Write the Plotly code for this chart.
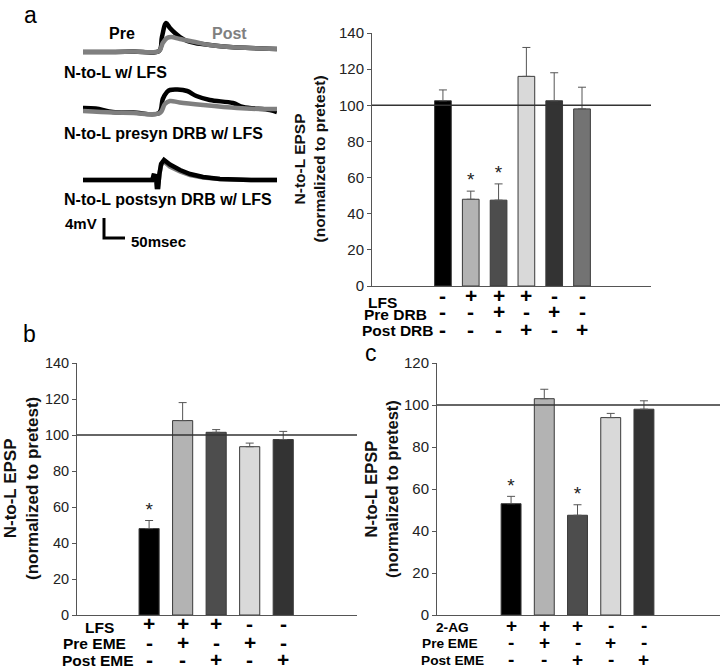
import plotly.graph_objects as go

W, H = 720, 670
FONT = "Liberation Sans, Arial, sans-serif"


def X(px):
    return px / W


def Y(py):
    return 1 - py / H


# ---------------- data ----------------
# Panel a (bars)
A_VALUES = [102.5, 48, 47.5, 116, 102.5, 98]
A_ERRORS = [6, 4.5, 9, 16, 15.5, 12]
A_COLORS = ["#000000", "#b3b3b3", "#4d4d4d", "#d9d9d9", "#333333", "#737373"]
A_SIG = [False, True, True, False, False, False]
A_ROWS = ["LFS", "Pre DRB", "Post DRB"]
A_SIGNS = [["-", "+", "+", "+", "-", "-"],
           ["-", "-", "+", "-", "+", "-"],
           ["-", "-", "-", "+", "-", "+"]]
A_TICKS = [0, 20, 40, 60, 80, 100, 120, 140]

# Panel b
B_VALUES = [48, 108, 101.5, 93.5, 97.5]
B_ERRORS = [4.5, 10, 1.5, 2, 4.5]
B_COLORS = ["#000000", "#b3b3b3", "#4d4d4d", "#d9d9d9", "#333333"]
B_SIG = [True, False, False, False, False]
B_ROWS = ["LFS", "Pre EME", "Post EME"]
B_SIGNS = [["+", "+", "+", "-", "-"],
           ["-", "+", "-", "+", "-"],
           ["-", "-", "+", "-", "+"]]
B_TICKS = [0, 20, 40, 60, 80, 100, 120, 140]

# Panel c
C_VALUES = [53, 103, 47.5, 94, 98]
C_ERRORS = [3.5, 4.5, 5, 2, 4]
C_COLORS = ["#000000", "#b3b3b3", "#4d4d4d", "#d9d9d9", "#333333"]
C_SIG = [True, False, True, False, False]
C_ROWS = ["2-AG", "Pre EME", "Post EME"]
C_SIGNS = [["+", "+", "+", "-", "-"],
           ["-", "+", "-", "+", "-"],
           ["-", "-", "+", "-", "+"]]
C_TICKS = [0, 20, 40, 60, 80, 100, 120]

REF_LEVEL = 100

# Panel a traces (time in ms, potential in mV relative to baseline)
T1_PRE_T = [0, 60, 120, 181, 188, 198, 207, 219, 231, 248, 267, 302, 350, 398, 462]
T1_PRE_V = [0, 0, 0.1, 0.2, 3.0, 5.8, 4.8, 3.8, 3.0, 2.2, 1.8, 1.4, 1.0, 0.8, 0.6]
T1_POST_T = [0, 60, 120, 181, 190, 200, 210, 231, 267, 302, 350, 398, 462]
T1_POST_V = [0, 0, 0.1, 0.2, 1.8, 2.8, 3.0, 2.6, 2.0, 1.4, 1.0, 0.8, 0.6]

T2_PRE_T = [0, 30, 71, 120, 181, 190, 200, 207, 225, 248, 270, 302, 357, 381, 445, 462]
T2_PRE_V = [1.0, 0.9, 0.2, 0.1, 0.0, 2.8, 4.2, 4.6, 4.7, 4.4, 3.4, 2.6, 2.0, 1.2, 0.6, 0.2]
T2_POST_T = [0, 71, 120, 183, 195, 207, 230, 286, 367, 420, 462]
T2_POST_V = [0.4, 0.1, 0.0, 0.0, 1.8, 2.4, 2.1, 1.6, 1.0, 0.8, 0.8]

T3_PRE_T = [0, 100, 165, 168, 174, 176, 179, 182, 186, 193, 207, 231, 255, 286, 326, 400, 462]
T3_PRE_V = [0, 0, 0, 0.9, 0.8, -1.4, -1.4, 1.2, 3.2, 4.0, 3.1, 2.0, 1.2, 0.6, 0.2, 0.0, 0.0]
T3_POST_T = [0, 100, 165, 168, 174, 176, 179, 182, 186, 193, 207, 231, 255, 286, 326, 400, 462]
T3_POST_V = [0, 0, 0, 0.9, 0.8, -1.4, -1.4, 1.2, 3.0, 3.7, 2.7, 1.7, 1.0, 0.5, 0.2, 0.0, 0.0]

TRACE_LABELS = ["N-to-L w/ LFS", "N-to-L presyn DRB w/ LFS", "N-to-L postsyn DRB w/ LFS"]
SCALE_MV = 4
SCALE_MS = 50

# ---------------- figure ----------------
fig = go.Figure()
annotations = []
shapes = []
axes = {}


def bar_panel(ax, values, errors, colors, sig, rows, signs, ticks, ymax,
              xdom, ydom, xrange, tick_size, title_x, title_size,
              row_label_pos, sign_rows_y, row_font, sign_font):
    xa = "x" if ax == 1 else f"x{ax}"
    ya = "y" if ax == 1 else f"y{ax}"
    idx = list(range(len(values)))
    fig.add_trace(go.Bar(
        x=idx, y=values, width=0.6, xaxis=xa, yaxis=ya,
        marker=dict(color=colors, line=dict(color="#3a3a3a", width=1)),
        error_y=dict(type="data", symmetric=False, array=errors,
                     arrayminus=[0] * len(values), color="#555555",
                     thickness=1, width=4),
        showlegend=False, hoverinfo="skip"))
    sx = [i for i in idx if sig[i]]
    sy = [values[i] + errors[i] for i in idx if sig[i]]
    fig.add_trace(go.Scatter(
        x=sx, y=sy, mode="text", text=["*"] * len(sx), textposition="top center",
        textfont=dict(family=FONT, size=19, color="#222222"),
        xaxis=xa, yaxis=ya, showlegend=False, hoverinfo="skip", cliponaxis=False))
    sfx = "" if ax == 1 else str(ax)
    axes[f"xaxis{sfx}"] = dict(
        domain=xdom, range=xrange, anchor=ya, showline=True, linecolor="#555555",
        linewidth=1, showticklabels=False, ticks="", fixedrange=True,
        showgrid=False, zeroline=False, automargin=False)
    axes[f"yaxis{sfx}"] = dict(
        domain=ydom, range=[0, ymax], anchor=xa, showline=True, linecolor="#555555",
        linewidth=1, tickvals=ticks, ticks="outside", ticklen=4, tickcolor="#555555",
        tickfont=dict(family=FONT, size=tick_size, color="#222222"), fixedrange=True,
        showgrid=False, zeroline=False, automargin=False)
    shapes.append(dict(type="line", xref=f"{xa} domain", yref=ya, x0=0, x1=1,
                       y0=REF_LEVEL, y1=REF_LEVEL,
                       line=dict(color="#333333", width=1.5)))
    annotations.append(dict(
        text="<b>N-to-L EPSP</b><br><b>(normalized to pretest)</b>",
        x=X(title_x), y=(ydom[0] + ydom[1]) / 2, textangle=-90,
        font=dict(family=FONT, size=title_size, color="#111111")))
    for r, name in enumerate(rows):
        lx, ly = row_label_pos[r]
        annotations.append(dict(text=f"<b>{name}</b>", x=X(lx), y=Y(ly),
                                font=dict(family=FONT, size=row_font, color="#000000")))
        for i, s in enumerate(signs[r]):
            annotations.append(dict(text=f"<b>{s}</b>", xref=xa, x=i, y=Y(sign_rows_y[r]),
                                    font=dict(family=FONT, size=sign_font,
                                              color="#000000")))


bar_panel(1, A_VALUES, A_ERRORS, A_COLORS, A_SIG, A_ROWS, A_SIGNS, A_TICKS, 140,
          [X(372), X(651)], [Y(286), Y(33)], [-2.55, 7.48], 15, 309, 15.5,
          [(382, 302), (395, 314), (397, 331)], [295, 312, 329], 15.5, 21)
bar_panel(2, B_VALUES, B_ERRORS, B_COLORS, B_SIG, B_ROWS, B_SIGNS, B_TICKS, 140,
          [X(77), X(357)], [Y(615), Y(363)], [-2.15, 6.2], 14.5, 21, 17,
          [(99, 627), (94, 643), (97, 660)], [623, 642, 659], 15.5, 21)
bar_panel(3, C_VALUES, C_ERRORS, C_COLORS, C_SIG, C_ROWS, C_SIGNS, C_TICKS, 120,
          [X(437), 1.0], [Y(615), Y(363)], [-2.23, 6.29], 15, 381, 16.5,
          [(452, 627), (450, 643), (452, 660)], [625, 642, 659], 13.7, 19)

# Trace axes (5 px per mV, 0.42 px per ms)
trace_sets = [
    (4, T1_PRE_T, T1_PRE_V, T1_POST_T, T1_POST_V, True, [-2, 7], 52, "spline"),
    (5, T2_PRE_T, T2_PRE_V, T2_POST_T, T2_POST_V, True, [-2, 6], 113, "spline"),
    (6, T3_PRE_T, T3_PRE_V, T3_POST_T, T3_POST_V, False, [-12.5, 6], 180, "linear"),
]
for ax, tp, vp, tq, vq, post_on_top, yr, base, shape in trace_sets:
    xa, ya = f"x{ax}", f"y{ax}"
    pre = go.Scatter(x=tp, y=vp, mode="lines",
                     line=dict(color="#000000", width=4.5, shape=shape),
                     xaxis=xa, yaxis=ya, showlegend=False, hoverinfo="skip")
    post = go.Scatter(x=tq, y=vq, mode="lines",
                      line=dict(color="#7f7f7f", width=4.5, shape=shape),
                      xaxis=xa, yaxis=ya, showlegend=False, hoverinfo="skip")
    if post_on_top:
        fig.add_trace(pre)
        fig.add_trace(post)
    else:
        fig.add_trace(post)
        fig.add_trace(pre)
    top = base - yr[1] * 5
    bottom = base - yr[0] * 5
    axes[f"xaxis{ax}"] = dict(domain=[X(83), X(277)], range=[0, 462], anchor=ya,
                              visible=False, fixedrange=True, automargin=False)
    axes[f"yaxis{ax}"] = dict(domain=[Y(bottom), Y(top)], range=yr, anchor=xa,
                              visible=False, fixedrange=True, automargin=False)

# scale bar in the third trace's axes
SB_T0, SB_V0 = 50, -11.6
fig.add_trace(go.Scatter(x=[SB_T0, SB_T0, SB_T0 + SCALE_MS],
                         y=[SB_V0 + SCALE_MV, SB_V0, SB_V0],
                         mode="lines", line=dict(color="#000000", width=3),
                         xaxis="x6", yaxis="y6", showlegend=False, hoverinfo="skip"))

# trace texts
for label, py in zip(TRACE_LABELS, [72, 133, 199]):
    annotations.append(dict(text=f"<b>{label}</b>", x=X(62), y=Y(py), xanchor="left",
                            font=dict(family=FONT, size=16, color="#000000")))
annotations += [
    dict(text="<b>Pre</b>", x=X(122), y=Y(33), font=dict(family=FONT, size=16, color="#000000")),
    dict(text="<b>Post</b>", x=X(230), y=Y(33), font=dict(family=FONT, size=16, color="#808080")),
    dict(text=f"<b>{SCALE_MV}mV</b>", x=X(99), y=Y(223), xanchor="right",
         font=dict(family=FONT, size=15, color="#000000")),
    dict(text=f"<b>{SCALE_MS}msec</b>", x=X(129), y=Y(241), xanchor="left",
         font=dict(family=FONT, size=15, color="#000000")),
    dict(text="a", x=X(30), y=Y(15), font=dict(family=FONT, size=23, color="#000000")),
    dict(text="b", x=X(29), y=Y(334), font=dict(family=FONT, size=23, color="#000000")),
    dict(text="c", x=X(371), y=Y(353), font=dict(family=FONT, size=23, color="#000000")),
]
for a in annotations:
    a.setdefault("xref", "paper")
    a.setdefault("yref", "paper")
    a.setdefault("showarrow", False)
    a.setdefault("xanchor", "center")
    a.setdefault("yanchor", "middle")

fig.update_layout(template="none", width=W, height=H,
                  margin=dict(l=0, r=0, t=0, b=0, pad=0, autoexpand=False),
                  paper_bgcolor="white", plot_bgcolor="white",
                  annotations=annotations, shapes=shapes, showlegend=False,
                  **axes)

fig.write_html("out.html", config={"displayModeBar": False},
               post_script="document.body.style.margin='0px';"
                           "document.body.style.overflow='hidden';")
